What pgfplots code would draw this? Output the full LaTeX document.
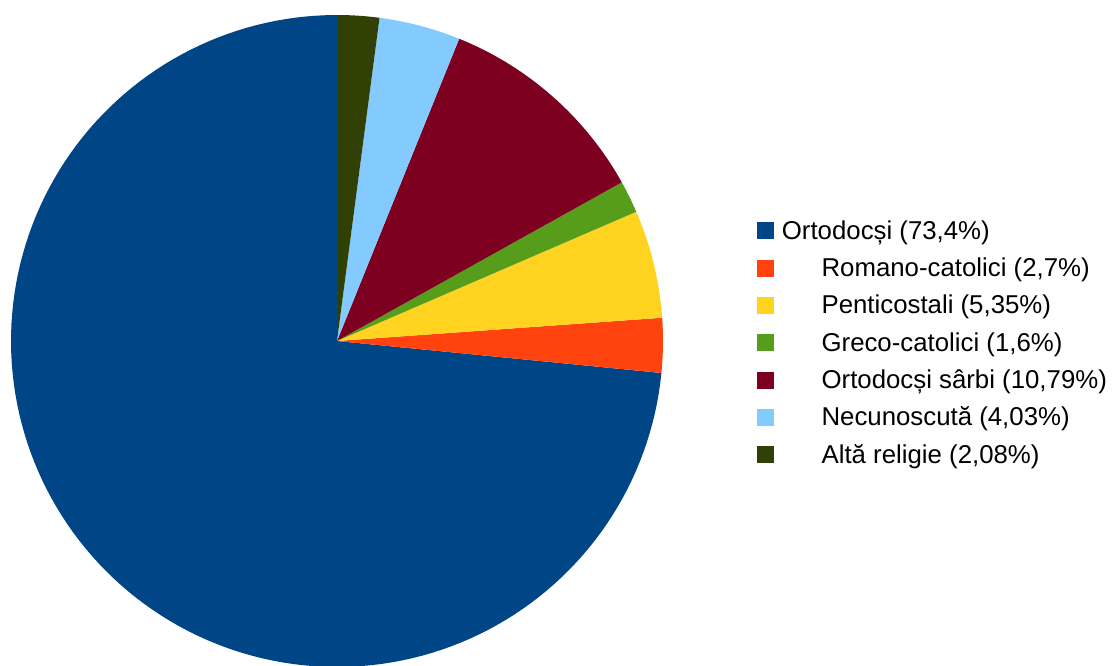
\documentclass[border=0pt]{standalone}
\usepackage{fontspec}
\setmainfont{Liberation Sans}
\usepackage{pgfplots}
\pgfplotsset{compat=1.18}

% LibreOffice default palette
\definecolor{c1}{HTML}{004586}
\definecolor{c2}{HTML}{FF420E}
\definecolor{c3}{HTML}{FFD320}
\definecolor{c4}{HTML}{579D1C}
\definecolor{c5}{HTML}{7E0021}
\definecolor{c6}{HTML}{83CAFF}
\definecolor{c7}{HTML}{314004}

% shares (%), counter-clockwise from 12 o'clock
\def\pA{73.4}
\def\pB{2.7}
\def\pC{5.35}
\def\pD{1.6}
\def\pE{10.79}
\def\pF{4.03}
\def\pG{2.08}
\pgfmathsetmacro\total{\pA+\pB+\pC+\pD+\pE+\pF+\pG}
\pgfmathsetmacro\aA{90}
\pgfmathsetmacro\aB{\aA+\pA/\total*360}
\pgfmathsetmacro\aC{\aB+\pB/\total*360}
\pgfmathsetmacro\aD{\aC+\pC/\total*360}
\pgfmathsetmacro\aE{\aD+\pD/\total*360}
\pgfmathsetmacro\aF{\aE+\pE/\total*360}
\pgfmathsetmacro\aG{\aF+\pF/\total*360}
\pgfmathsetmacro\aH{\aG+\pG/\total*360}

\begin{document}
\begin{tikzpicture}
\useasboundingbox (0,0) rectangle (557.5pt,332.5pt);
\begin{axis}[
    hide axis,
    scale only axis,
    width=326pt, height=326pt,
    xmin=-1, xmax=1, ymin=-1, ymax=1,
    clip=false,
    at={(168.5pt,162pt)}, anchor=center,
    samples=150,
    legend cell align=left,
    legend image code/.code={\fill[#1] (0pt,-4.25pt) rectangle (8.5pt,4.25pt);},
    legend style={
        draw=none, fill=none,
        inner sep=0pt, outer sep=0pt,
        at={(axis cs:1.288,0.364)}, anchor=north west,
        font=\fontsize{12.9pt}{15pt}\selectfont,
        nodes={inner sep=0pt, text height=8.5pt, text depth=0pt},
        row sep=10.15pt, column sep=4pt,
    },
]
\addplot[fill=c1, draw=none, domain=\aA:\aB] ({cos(x)},{sin(x)}) -- (axis cs:0,0) -- cycle;
\addlegendentry{Ortodocși (73,4\%)}
\addplot[fill=c2, draw=none, domain=\aB:\aC] ({cos(x)},{sin(x)}) -- (axis cs:0,0) -- cycle;
\addlegendentry{\hspace*{19.85pt}Romano-catolici (2,7\%)}
\addplot[fill=c3, draw=none, domain=\aC:\aD] ({cos(x)},{sin(x)}) -- (axis cs:0,0) -- cycle;
\addlegendentry{\hspace*{19.85pt}Penticostali (5,35\%)}
\addplot[fill=c4, draw=none, domain=\aD:\aE] ({cos(x)},{sin(x)}) -- (axis cs:0,0) -- cycle;
\addlegendentry{\hspace*{19.85pt}Greco-catolici (1,6\%)}
\addplot[fill=c5, draw=none, domain=\aE:\aF] ({cos(x)},{sin(x)}) -- (axis cs:0,0) -- cycle;
\addlegendentry{\hspace*{19.85pt}Ortodocși sârbi (10,79\%)}
\addplot[fill=c6, draw=none, domain=\aF:\aG] ({cos(x)},{sin(x)}) -- (axis cs:0,0) -- cycle;
\addlegendentry{\hspace*{19.85pt}Necunoscută (4,03\%)}
\addplot[fill=c7, draw=none, domain=\aG:\aH] ({cos(x)},{sin(x)}) -- (axis cs:0,0) -- cycle;
\addlegendentry{\hspace*{19.85pt}Altă religie (2,08\%)}
\end{axis}
\end{tikzpicture}
\end{document}
